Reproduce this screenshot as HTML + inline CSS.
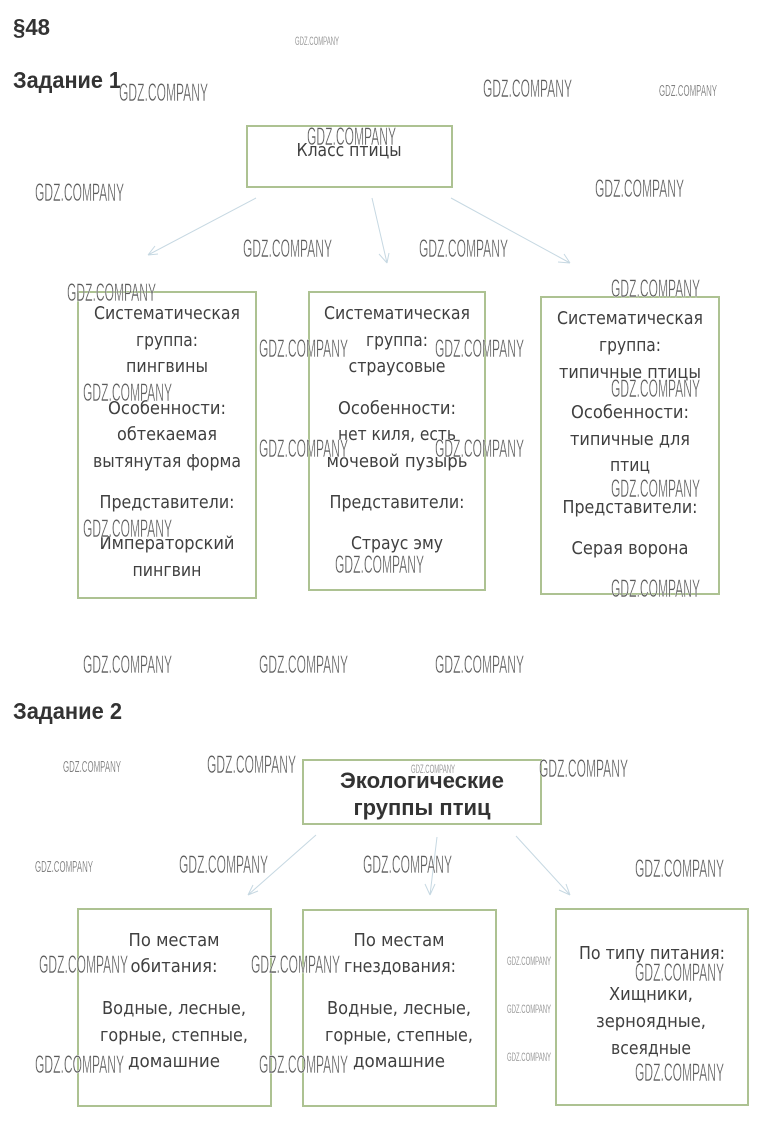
<!DOCTYPE html>
<html lang="ru">
<head>
<meta charset="utf-8">
<title>§48</title>
<style>
html,body{margin:0;padding:0;background:#fff;width:764px;height:1129px;overflow:hidden}
svg{display:block}
.h{font:bold 23px "Liberation Sans",sans-serif;fill:#333}
.t{font:18px "DejaVu Sans","Liberation Sans",sans-serif;fill:#404040;text-anchor:middle}
.e{font:bold 22px "Liberation Sans",sans-serif;fill:#333;text-anchor:middle}
.w{font:25px "Liberation Sans",sans-serif;fill:#5a5a5a;stroke:#fff;stroke-width:.45;paint-order:normal}
.s{font:16px "Liberation Sans",sans-serif;fill:#666;stroke:#fff;stroke-width:.3}
.x{font:12px "Liberation Sans",sans-serif;fill:#777;stroke:#fff;stroke-width:.2}
.b{fill:none;stroke:#adc292;stroke-width:2}
.a{fill:none;stroke:#c6d8e2;stroke-width:1}
</style>
</head>
<body>
<svg width="764" height="1129" viewBox="0 0 764 1129" xmlns="http://www.w3.org/2000/svg">
<text class="h" x="13" y="35" textLength="37" lengthAdjust="spacingAndGlyphs">§48</text>
<text class="h" x="13" y="88" textLength="108" lengthAdjust="spacingAndGlyphs">Задание 1</text>
<text class="h" x="13" y="719" textLength="109" lengthAdjust="spacingAndGlyphs">Задание 2</text>

<rect class="b" x="247" y="126" width="205" height="61"/>
<rect class="b" x="78" y="292" width="178" height="306"/>
<rect class="b" x="309" y="292" width="176" height="298"/>
<rect class="b" x="541" y="297" width="178" height="297"/>
<rect class="b" x="303" y="760" width="238" height="64"/>
<rect class="b" x="78" y="909" width="193" height="197"/>
<rect class="b" x="303" y="910" width="193" height="196"/>
<rect class="b" x="556" y="909" width="192" height="196"/>

<path class="a" d="M256 198L148 255M148 255L155 246M148 255L158 254"/>
<path class="a" d="M372 198L387 263M387 263L379 254M387 263L389 253"/>
<path class="a" d="M451 198L570 263M570 263L558 262M570 263L564 254"/>
<path class="a" d="M316 835L248 895M248 895L253 885M248 895L258 891"/>
<path class="a" d="M437 837L430 895M430 895L425 884M430 895L435 884"/>
<path class="a" d="M516 836L570 895M570 895L559 890M570 895L566 884"/>

<g transform="translate(0,1)">
<text class="t" x="349" y="155" textLength="105" lengthAdjust="spacingAndGlyphs">Класс птицы</text>

<text class="t" x="167" y="318" textLength="146" lengthAdjust="spacingAndGlyphs">Систематическая</text>
<text class="t" x="167" y="345" textLength="62" lengthAdjust="spacingAndGlyphs">группа:</text>
<text class="t" x="167" y="371" textLength="82" lengthAdjust="spacingAndGlyphs">пингвины</text>
<text class="t" x="167" y="413" textLength="118" lengthAdjust="spacingAndGlyphs">Особенности:</text>
<text class="t" x="167" y="439" textLength="100" lengthAdjust="spacingAndGlyphs">обтекаемая</text>
<text class="t" x="167" y="466" textLength="148" lengthAdjust="spacingAndGlyphs">вытянутая форма</text>
<text class="t" x="167" y="507" textLength="135" lengthAdjust="spacingAndGlyphs">Представители:</text>
<text class="t" x="167" y="548" textLength="135" lengthAdjust="spacingAndGlyphs">Императорский</text>
<text class="t" x="167" y="575" textLength="69" lengthAdjust="spacingAndGlyphs">пингвин</text>

<text class="t" x="397" y="318" textLength="146" lengthAdjust="spacingAndGlyphs">Систематическая</text>
<text class="t" x="397" y="345" textLength="62" lengthAdjust="spacingAndGlyphs">группа:</text>
<text class="t" x="397" y="371" textLength="97" lengthAdjust="spacingAndGlyphs">страусовые</text>
<text class="t" x="397" y="413" textLength="118" lengthAdjust="spacingAndGlyphs">Особенности:</text>
<text class="t" x="397" y="439" textLength="118" lengthAdjust="spacingAndGlyphs">нет киля, есть</text>
<text class="t" x="397" y="466" textLength="141" lengthAdjust="spacingAndGlyphs">мочевой пузырь</text>
<text class="t" x="397" y="507" textLength="135" lengthAdjust="spacingAndGlyphs">Представители:</text>
<text class="t" x="397" y="548" textLength="92" lengthAdjust="spacingAndGlyphs">Страус эму</text>

<text class="t" x="630" y="323" textLength="146" lengthAdjust="spacingAndGlyphs">Систематическая</text>
<text class="t" x="630" y="350" textLength="62" lengthAdjust="spacingAndGlyphs">группа:</text>
<text class="t" x="630" y="377" textLength="142" lengthAdjust="spacingAndGlyphs">типичные птицы</text>
<text class="t" x="630" y="417" textLength="118" lengthAdjust="spacingAndGlyphs">Особенности:</text>
<text class="t" x="630" y="444" textLength="120" lengthAdjust="spacingAndGlyphs">типичные для</text>
<text class="t" x="630" y="470" textLength="40" lengthAdjust="spacingAndGlyphs">птиц</text>
<text class="t" x="630" y="512" textLength="135" lengthAdjust="spacingAndGlyphs">Представители:</text>
<text class="t" x="630" y="553" textLength="117" lengthAdjust="spacingAndGlyphs">Серая ворона</text>

<text class="t" x="174" y="945" textLength="91" lengthAdjust="spacingAndGlyphs">По местам</text>
<text class="t" x="174" y="971" textLength="87" lengthAdjust="spacingAndGlyphs">обитания:</text>
<text class="t" x="174" y="1013" textLength="144" lengthAdjust="spacingAndGlyphs">Водные, лесные,</text>
<text class="t" x="174" y="1040" textLength="148" lengthAdjust="spacingAndGlyphs">горные, степные,</text>
<text class="t" x="174" y="1066" textLength="92" lengthAdjust="spacingAndGlyphs">домашние</text>

<text class="t" x="399" y="945" textLength="91" lengthAdjust="spacingAndGlyphs">По местам</text>
<text class="t" x="400" y="971" textLength="112" lengthAdjust="spacingAndGlyphs">гнездования:</text>
<text class="t" x="399" y="1013" textLength="144" lengthAdjust="spacingAndGlyphs">Водные, лесные,</text>
<text class="t" x="399" y="1040" textLength="148" lengthAdjust="spacingAndGlyphs">горные, степные,</text>
<text class="t" x="399" y="1066" textLength="92" lengthAdjust="spacingAndGlyphs">домашние</text>

<text class="t" x="652" y="958" textLength="146" lengthAdjust="spacingAndGlyphs">По типу питания:</text>
<text class="t" x="651" y="999" textLength="84" lengthAdjust="spacingAndGlyphs">Хищники,</text>
<text class="t" x="651" y="1026" textLength="110" lengthAdjust="spacingAndGlyphs">зерноядные,</text>
<text class="t" x="651" y="1053" textLength="80" lengthAdjust="spacingAndGlyphs">всеядные</text>
</g>

<text class="e" x="422" y="788" textLength="164" lengthAdjust="spacingAndGlyphs">Экологические</text>
<text class="e" x="422" y="815" textLength="137" lengthAdjust="spacingAndGlyphs">группы птиц</text>

<text class="x" x="295" y="45" textLength="44" lengthAdjust="spacingAndGlyphs">GDZ.COMPANY</text>
<text class="w" x="119" y="101" textLength="89" lengthAdjust="spacingAndGlyphs">GDZ.COMPANY</text>
<text class="w" x="483" y="97" textLength="89" lengthAdjust="spacingAndGlyphs">GDZ.COMPANY</text>
<text class="s" x="659" y="96" textLength="58" lengthAdjust="spacingAndGlyphs">GDZ.COMPANY</text>
<text class="w" x="307" y="145" textLength="89" lengthAdjust="spacingAndGlyphs">GDZ.COMPANY</text>
<text class="w" x="35" y="201" textLength="89" lengthAdjust="spacingAndGlyphs">GDZ.COMPANY</text>
<text class="w" x="595" y="197" textLength="89" lengthAdjust="spacingAndGlyphs">GDZ.COMPANY</text>
<text class="w" x="243" y="257" textLength="89" lengthAdjust="spacingAndGlyphs">GDZ.COMPANY</text>
<text class="w" x="419" y="257" textLength="89" lengthAdjust="spacingAndGlyphs">GDZ.COMPANY</text>
<text class="w" x="67" y="301" textLength="89" lengthAdjust="spacingAndGlyphs">GDZ.COMPANY</text>
<text class="w" x="611" y="297" textLength="89" lengthAdjust="spacingAndGlyphs">GDZ.COMPANY</text>
<text class="w" x="259" y="357" textLength="89" lengthAdjust="spacingAndGlyphs">GDZ.COMPANY</text>
<text class="w" x="435" y="357" textLength="89" lengthAdjust="spacingAndGlyphs">GDZ.COMPANY</text>
<text class="w" x="83" y="401" textLength="89" lengthAdjust="spacingAndGlyphs">GDZ.COMPANY</text>
<text class="w" x="611" y="397" textLength="89" lengthAdjust="spacingAndGlyphs">GDZ.COMPANY</text>
<text class="w" x="259" y="457" textLength="89" lengthAdjust="spacingAndGlyphs">GDZ.COMPANY</text>
<text class="w" x="435" y="457" textLength="89" lengthAdjust="spacingAndGlyphs">GDZ.COMPANY</text>
<text class="w" x="611" y="497" textLength="89" lengthAdjust="spacingAndGlyphs">GDZ.COMPANY</text>
<text class="w" x="83" y="537" textLength="89" lengthAdjust="spacingAndGlyphs">GDZ.COMPANY</text>
<text class="w" x="335" y="573" textLength="89" lengthAdjust="spacingAndGlyphs">GDZ.COMPANY</text>
<text class="w" x="611" y="597" textLength="89" lengthAdjust="spacingAndGlyphs">GDZ.COMPANY</text>
<text class="w" x="83" y="673" textLength="89" lengthAdjust="spacingAndGlyphs">GDZ.COMPANY</text>
<text class="w" x="259" y="673" textLength="89" lengthAdjust="spacingAndGlyphs">GDZ.COMPANY</text>
<text class="w" x="435" y="673" textLength="89" lengthAdjust="spacingAndGlyphs">GDZ.COMPANY</text>
<text class="s" x="63" y="772" textLength="58" lengthAdjust="spacingAndGlyphs">GDZ.COMPANY</text>
<text class="w" x="207" y="773" textLength="89" lengthAdjust="spacingAndGlyphs">GDZ.COMPANY</text>
<text class="w" x="539" y="777" textLength="89" lengthAdjust="spacingAndGlyphs">GDZ.COMPANY</text>
<text class="x" x="411" y="773" textLength="44" lengthAdjust="spacingAndGlyphs">GDZ.COMPANY</text>
<text class="s" x="35" y="872" textLength="58" lengthAdjust="spacingAndGlyphs">GDZ.COMPANY</text>
<text class="w" x="179" y="873" textLength="89" lengthAdjust="spacingAndGlyphs">GDZ.COMPANY</text>
<text class="w" x="363" y="873" textLength="89" lengthAdjust="spacingAndGlyphs">GDZ.COMPANY</text>
<text class="w" x="635" y="877" textLength="89" lengthAdjust="spacingAndGlyphs">GDZ.COMPANY</text>
<text class="w" x="39" y="973" textLength="89" lengthAdjust="spacingAndGlyphs">GDZ.COMPANY</text>
<text class="w" x="251" y="973" textLength="89" lengthAdjust="spacingAndGlyphs">GDZ.COMPANY</text>
<text class="x" x="507" y="965" textLength="44" lengthAdjust="spacingAndGlyphs">GDZ.COMPANY</text>
<text class="w" x="635" y="981" textLength="89" lengthAdjust="spacingAndGlyphs">GDZ.COMPANY</text>
<text class="x" x="507" y="1013" textLength="44" lengthAdjust="spacingAndGlyphs">GDZ.COMPANY</text>
<text class="x" x="507" y="1061" textLength="44" lengthAdjust="spacingAndGlyphs">GDZ.COMPANY</text>
<text class="w" x="35" y="1073" textLength="89" lengthAdjust="spacingAndGlyphs">GDZ.COMPANY</text>
<text class="w" x="259" y="1073" textLength="89" lengthAdjust="spacingAndGlyphs">GDZ.COMPANY</text>
<text class="w" x="635" y="1081" textLength="89" lengthAdjust="spacingAndGlyphs">GDZ.COMPANY</text>
</svg>
</body>
</html>
